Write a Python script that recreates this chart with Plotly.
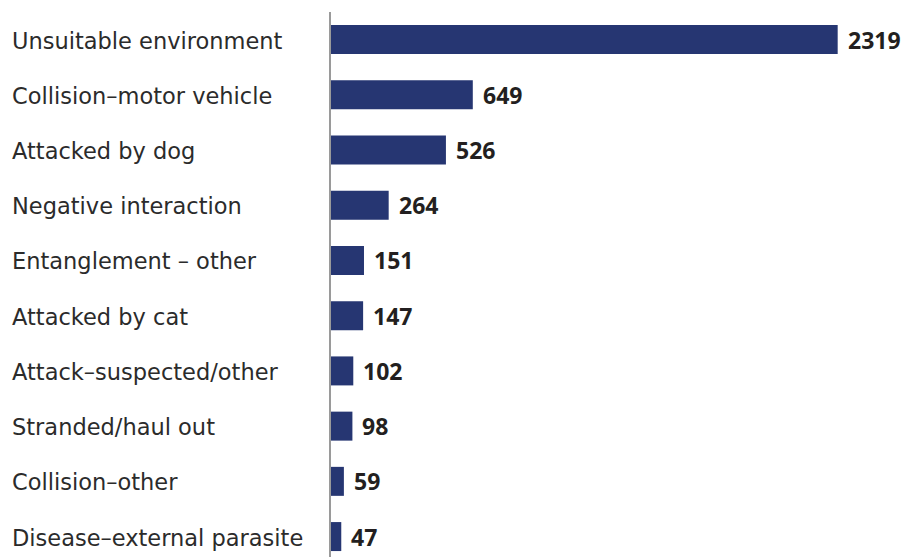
import plotly.graph_objects as go

# Injury / admission causes and their counts
causes = [
    "Unsuitable environment",
    "Collision–motor vehicle",
    "Attacked by dog",
    "Negative interaction",
    "Entanglement – other",
    "Attacked by cat",
    "Attack–suspected/other",
    "Stranded/haul out",
    "Collision–other",
    "Disease–external parasite",
]
counts = [2319, 649, 526, 264, 151, 147, 102, 98, 59, 47]

BAR_COLOR = "#263672"
TEXT_COLOR = "#2b2b2b"
LABEL_FONT = "DejaVu Sans"
VALUE_FONT = "Open Sans"

W, H = 920, 557
M_L, M_R, M_T, M_B = 331, 10, 12, 0
X_MAX = 2650
plot_w = W - M_L - M_R

fig = go.Figure(
    go.Bar(
        x=counts,
        y=causes,
        orientation="h",
        marker=dict(color=BAR_COLOR, line=dict(width=0)),
        hoverinfo="skip",
    )
)

# Category labels, left-aligned in the left margin
for cause in causes:
    fig.add_annotation(
        x=-(M_L - 10) / plot_w,
        xref="paper",
        y=cause,
        yref="y",
        text=cause,
        showarrow=False,
        xanchor="left",
        yanchor="middle",
        yshift=-1,
        font=dict(family=LABEL_FONT, size=22.5, color=TEXT_COLOR),
    )

# Value labels just past the end of each bar
for cause, n in zip(causes, counts):
    fig.add_annotation(
        x=n,
        y=cause,
        text=f"<b>{n}</b>",
        showarrow=False,
        xanchor="left",
        yanchor="middle",
        xshift=8,
        font=dict(family=VALUE_FONT, size=23, color="#231f20"),
    )

fig.update_layout(
    width=W,
    height=H,
    margin=dict(l=M_L, r=M_R, t=M_T, b=M_B, pad=0),
    paper_bgcolor="white",
    plot_bgcolor="white",
    bargap=0.475,
    showlegend=False,
    xaxis=dict(
        range=[0, X_MAX],
        visible=False,
        fixedrange=True,
    ),
    yaxis=dict(
        type="category",
        categoryorder="array",
        categoryarray=causes,
        range=[9.37, -0.5],
        showticklabels=False,
        ticks="",
        showgrid=False,
        zeroline=False,
        showline=True,
        linecolor="#9a9a9a",
        linewidth=2,
        fixedrange=True,
    ),
)

fig.write_html("out.html")
